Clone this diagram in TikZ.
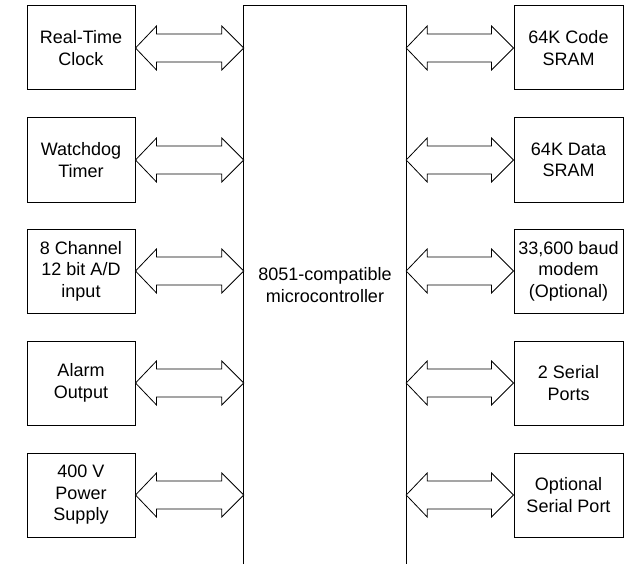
\documentclass[tikz,border=0pt]{standalone}
\usepackage{fontspec}
\setmainfont{Liberation Sans}
\usetikzlibrary{calc}

% block double arrow between two points on the same horizontal line
\newcommand{\dbus}[2]{%
  \draw[bus] (#1) -- ($(#1)+(21,-22)$) -- ($(#1)+(21,-14)$)
    -- ($(#2)+(-22,-14)$) -- ($(#2)+(-22,-22)$) -- (#2)
    -- ($(#2)+(-22,22)$) -- ($(#2)+(-22,14)$)
    -- ($(#1)+(21,14)$) -- ($(#1)+(21,22)$) -- cycle;}

\tikzset{
  unit/.style={draw, line width=1pt, align=center, inner sep=0pt,
    minimum height=84pt, font=\fontsize{18}{21.5}\selectfont},
  leftunit/.style={unit, minimum width=108pt},
  rightunit/.style={unit, minimum width=109pt},
  bus/.style={draw, line width=0.8pt, fill=white, line join=miter},
}

\begin{document}
\begin{tikzpicture}[x=1pt, y=-1pt]
  \useasboundingbox (0,0) rectangle (636,564);

  % central microcontroller (open at the bottom)
  \node[minimum width=162pt, minimum height=558pt, inner sep=0pt,
        align=center, font=\fontsize{18}{22.5}\selectfont]
       (mcu) at (325,285) {8051-compatible\\microcontroller};
  \draw[line width=1pt] (mcu.south west) -- (mcu.north west)
       -- (mcu.north east) -- (mcu.south east);

  % peripherals on the left
  \node[leftunit] (rtc) at (81,48)  {Real-Time\\Clock};
  \node[leftunit] (wdt) at (81,160) {Watchdog\\Timer};
  \node[leftunit] (adc) at (81,271) {8 Channel\\12 bit A/D\\input};
  \node[leftunit] (alm) at (81,383) {Alarm\\Output};
  \node[leftunit] (psu) at (81,495) {400 V\\Power\\Supply};

  % peripherals on the right
  \node[rightunit] (csr) at (568.5,48)  {64K Code\\SRAM};
  \node[rightunit] (dsr) at (568.5,160) {64K Data\\SRAM};
  \node[rightunit] (mdm) at (568.5,271) {33,600 baud\\modem\\(Optional)};
  \node[rightunit] (ser) at (568.5,383) {2 Serial\\Ports};
  \node[rightunit] (osp) at (568.5,495) {Optional\\Serial Port};

  % buses
  \foreach \n in {rtc,wdt,adc,alm,psu}{
    \coordinate (a) at (\n.east);
    \coordinate (b) at (mcu.west |- \n.east);
    \dbus{a}{b}
  }
  \foreach \n in {csr,dsr,mdm,ser,osp}{
    \coordinate (a) at (mcu.east |- \n.west);
    \coordinate (b) at (\n.west);
    \dbus{a}{b}
  }
\end{tikzpicture}
\end{document}
